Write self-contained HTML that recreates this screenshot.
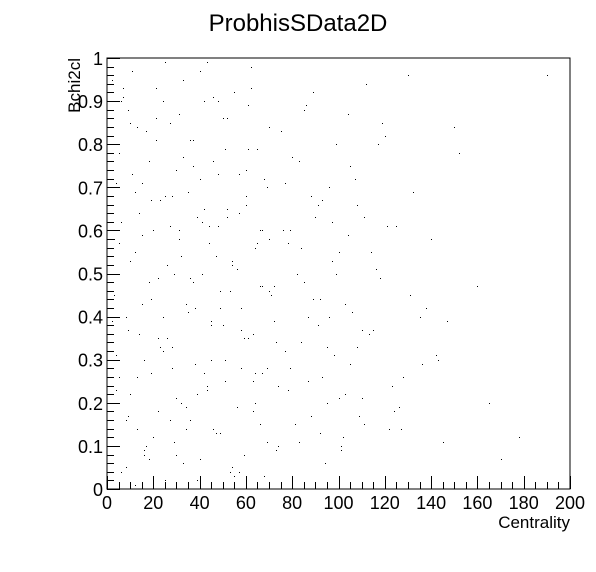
<!DOCTYPE html>
<html><head><meta charset="utf-8"><style>
body{margin:0;background:#fff}
svg{display:block;font-family:"Liberation Sans",sans-serif}
</style></head><body>
<svg id="chart" width="596" height="572" viewBox="0 0 596 572" xmlns="http://www.w3.org/2000/svg">
<rect width="596" height="572" fill="#fff"/>
<text x="298" y="31" font-size="24" text-anchor="middle">ProbhisSData2D</text>
<g id="points"></g>
<rect x="107" y="58" width="463" height="431" fill="none" stroke="#000" stroke-width="1"/>
<g id="axes"></g>
<text x="570" y="528" font-size="17" text-anchor="end">Centrality</text>
<text transform="translate(80,58) rotate(-90)" font-size="17" text-anchor="end">Bchi2cl</text>
</svg>
<script>
const xTicks=[0,20,40,60,80,100,120,140,160,180,200];
const yTicks=[0,0.1,0.2,0.3,0.4,0.5,0.6,0.7,0.8,0.9,1];
const ptX=[2,3,5,4,6,8,9,10,12,11,13,14,15,16,18,17,19,20,21,22,24,23,25,26,27,28,30,29,31,32,33,34,35,36,37,38,39,40,41,42,43,44,45,46,47,48,49,50,51,52,53,54,55,56,57,58,59,60,61,62,63,64,65,66,67,68,69,70,72,74,76,78,80,82,84,86,88,90,92,94,96,98,100,102,104,106,108,110,112,115,118,120,122,125,128,130,135,140,145,150,160,170,178,190,
1,3,6,7,9,11,13,15,17,19,21,23,25,27,29,31,33,35,37,39,41,43,45,47,49,51,53,55,57,59,61,63,65,67,69,71,73,75,77,79,81,83,85,87,89,91,93,95,97,99,101,103,105,107,109,111,113,116,119,123,127,132,138,143,152,165,
2,4,5,8,10,12,14,16,18,20,22,24,26,28,30,32,34,36,38,40,42,44,46,48,50,52,54,56,58,60,62,64,66,68,70,73,77,81,85,89,93,97,101,105,110,114,124,131,142,
1,3,5,7,9,12,15,18,21,24,27,30,33,36,39,42,45,48,51,54,57,60,63,66,69,72,75,79,84,88,92,96,100,104,108,117,126,147,
2,4,6,8,10,13,16,19,22,25,28,31,34,37,40,43,46,49,52,55,58,61,64,67,70,74,78,83,87,91,95,99,103,111,121,136];
const ptY=[0.12,0.45,0.78,0.31,0.62,0.05,0.88,0.22,0.55,0.97,0.14,0.36,0.71,0.09,0.48,0.83,0.27,0.6,0.93,0.18,0.4,0.67,0.02,0.52,0.85,0.33,0.74,0.11,0.58,0.2,0.95,0.43,0.69,0.16,0.81,0.29,0.63,0.07,0.5,0.9,0.24,0.57,0.38,0.76,0.13,0.61,0.46,0.86,0.3,0.65,0.04,0.53,0.92,0.19,0.73,0.42,0.08,0.68,0.35,0.98,0.25,0.56,0.79,0.15,0.47,0.72,0.28,0.84,0.39,0.1,0.6,0.23,0.77,0.5,0.34,0.89,0.17,0.63,0.44,0.06,0.7,0.31,0.55,0.12,0.87,0.41,0.66,0.21,0.94,0.37,0.49,0.82,0.14,0.61,0.26,0.96,0.4,0.58,0.11,0.84,0.47,0.07,0.12,0.96,
0.66,0.2,0.04,0.91,0.37,0.73,0.26,0.59,0.1,0.44,0.81,0.33,0.68,0.16,0.5,0.87,0.06,0.41,0.75,0.22,0.62,0.99,0.3,0.54,0.13,0.79,0.46,0.03,0.64,0.35,0.89,0.18,0.57,0.27,0.7,0.45,0.09,0.83,0.32,0.6,0.15,0.76,0.48,0.25,0.92,0.38,0.67,0.2,0.53,0.8,0.1,0.43,0.29,0.72,0.17,0.63,0.36,0.51,0.85,0.24,0.14,0.69,0.42,0.3,0.78,0.2,
0.95,0.23,0.57,0.4,0.85,0.01,0.64,0.3,0.76,0.12,0.49,0.9,0.35,0.68,0.08,0.54,0.19,0.81,0.42,0.97,0.27,0.61,0.14,0.73,0.38,0.86,0.05,0.51,0.28,0.66,0.93,0.2,0.47,0.03,0.58,0.34,0.71,0.15,0.88,0.44,0.26,0.62,0.09,0.75,0.37,0.55,0.18,0.45,0.31,
0.82,0.58,0.26,0.93,0.17,0.69,0.43,0.07,0.86,0.32,0.61,0.21,0.77,0.49,0.02,0.65,0.39,0.9,0.25,0.52,0.04,0.74,0.36,0.6,0.11,0.47,0.83,0.28,0.56,0.68,0.13,0.4,0.21,0.59,0.33,0.8,0.19,0.39,
0.39,0.71,0.9,0.16,0.53,0.84,0.08,0.67,0.35,0.99,0.28,0.6,0.14,0.48,0.72,0.23,0.91,0.42,0.63,0.01,0.37,0.79,0.27,0.6,0.46,0.24,0.57,0.11,0.4,0.66,0.33,0.5,0.22,0.15,0.61,0.29];
const X0=107,X1=570,Y0=489,Y1=58;
const sx=v=>X0+(v-0)/(200-0)*(X1-X0);
const sy=v=>Y0-(v-0)/(1-0)*(Y0-Y1);
const NS="http://www.w3.org/2000/svg";
const pg=document.getElementById('points');
for(let i=0;i<Math.min(ptX.length,ptY.length);i++){
  const r=document.createElementNS(NS,'rect');
  
  
  r.setAttribute('x',Math.round(sx(ptX[i])));r.setAttribute('y',Math.round(sy(ptY[i])));
  r.setAttribute('width',1);r.setAttribute('height',1);r.setAttribute('fill','#000');
  pg.appendChild(r);
}
const ax=document.getElementById('axes');
function line(x1,y1,x2,y2,name){
  const l=document.createElementNS(NS,'line');
  
  
  l.setAttribute('x1',x1);l.setAttribute('y1',y1);l.setAttribute('x2',x2);l.setAttribute('y2',y2);
  l.setAttribute('stroke','#000');l.setAttribute('stroke-width',1);
  ax.appendChild(l);
}
function label(x,y,t,anchor,name){
  const e=document.createElementNS(NS,'text');
  
  
  e.setAttribute('x',x);e.setAttribute('y',y);e.setAttribute('font-size',18);
  e.setAttribute('text-anchor',anchor);e.textContent=t;ax.appendChild(e);
}
for(let v=0;v<=200;v+=5){
  const x=Math.round(sx(v))+0.5;const major=v%20===0;
  line(x,Y0,x,Y0-(major?13:7),'x-tick');
}
xTicks.forEach(v=>label(sx(v),509,String(v),'middle','x-tick-label'));
for(let k=0;k<=50;k++){
  const v=k/50;const y=Math.round(sy(v))+0.5;const major=k%5===0;
  line(X0,y,X0+(major?13:7),y,'y-tick');
}
yTicks.forEach(v=>label(103,sy(v)+7,String(v),'end','y-tick-label'));
</script>
</body></html>
